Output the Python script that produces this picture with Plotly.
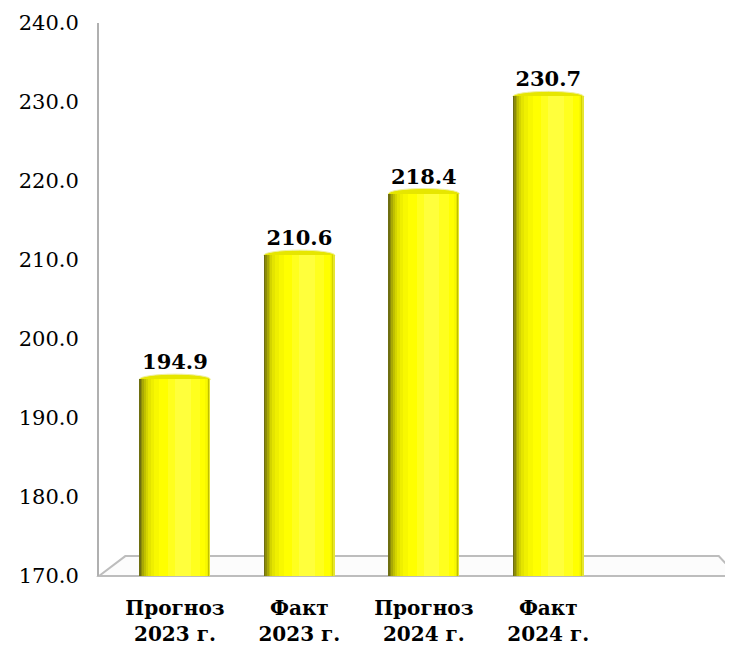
import plotly.graph_objects as go

# ---- data ----
categories = ["Прогноз<br>2023 г.", "Факт<br>2023 г.", "Прогноз<br>2024 г.", "Факт<br>2024 г."]
values = [194.9, 210.6, 218.4, 230.7]
value_labels = ["194.9", "210.6", "218.4", "230.7"]
tick_values = [170, 180, 190, 200, 210, 220, 230, 240]
tick_labels = ["170.0", "180.0", "190.0", "200.0", "210.0", "220.0", "230.0", "240.0"]
base_value = 170

# ---- style ----
BAR_W = 0.57
FONT = "DejaVu Serif"
# (left fraction, right fraction, colour) -> cylinder shading layers
shade_layers = [
    (0.00, 1.00, "#e6e630"),
    (0.00, 0.975, "#6e6e10"),
    (0.02, 0.975, "#8c8c0a"),
    (0.04, 0.975, "#a8a805"),
    (0.065, 0.975, "#c0c000"),
    (0.09, 0.97, "#d4d400"),
    (0.12, 0.965, "#e4e400"),
    (0.16, 0.96, "#efef00"),
    (0.21, 0.95, "#f8f800"),
    (0.28, 0.93, "#ffff00"),
    (0.40, 0.85, "#ffff1e"),
    (0.50, 0.72, "#ffff3c"),
]

fig = go.Figure()
nb = [v - base_value for v in values]
for lf, rf, col in shade_layers:
    fig.add_trace(go.Bar(
        x=categories, y=nb, base=base_value,
        width=(rf - lf) * BAR_W,
        offset=-BAR_W / 2 + lf * BAR_W,
        marker=dict(color=col, line=dict(width=0)),
        hoverinfo="skip", showlegend=False,
    ))

# value labels
fig.add_trace(go.Scatter(
    x=categories, y=values, mode="markers+text", text=value_labels,
    textposition="top center",
    marker=dict(size=6, opacity=0),
    textfont=dict(family=FONT, size=21, color="black", weight="bold"),
    showlegend=False, hoverinfo="skip", cliponaxis=False,
))

shapes = []
# cylinder caps
for i, v in enumerate(values):
    shapes.append(dict(
        type="circle", xref="x", yref="y", layer="below",
        x0=i - BAR_W / 2, x1=i + BAR_W / 2, y0=v - 0.65, y1=v + 0.65,
        fillcolor="#e6e600", line=dict(color="#f0f0a0", width=1),
    ))
# floor
shapes.append(dict(
    type="path", xref="paper", yref="paper", layer="below",
    path="M 0,0 L 0.042,0.036 L 0.99,0.036 L 1.02,0 Z",
    fillcolor="rgba(252,252,252,1)", line=dict(color="#bdbdbd", width=2),
))

fig.update_layout(
    width=725, height=644,
    margin=dict(l=91, r=8, t=15, b=76),
    paper_bgcolor="white", plot_bgcolor="white",
    barmode="overlay", bargap=0,
    shapes=shapes,
    xaxis=dict(
        range=[-0.61, 4.42], showgrid=False, zeroline=False, showline=False,
        ticks="", tickfont=dict(family=FONT, size=20, color="black", weight="bold"),
        ticklabelstandoff=18, automargin=False,
    ),
    yaxis=dict(
        range=[170, 240], tickvals=tick_values, ticktext=tick_labels,
        showgrid=False, zeroline=False, showline=True, linecolor="#b0b0b0", linewidth=2,
        ticks="outside", ticklen=14, tickcolor="rgba(0,0,0,0)", automargin=False,
        tickfont=dict(family=FONT, size=21, color="black"),
    ),
)

fig.write_html("out.html")
